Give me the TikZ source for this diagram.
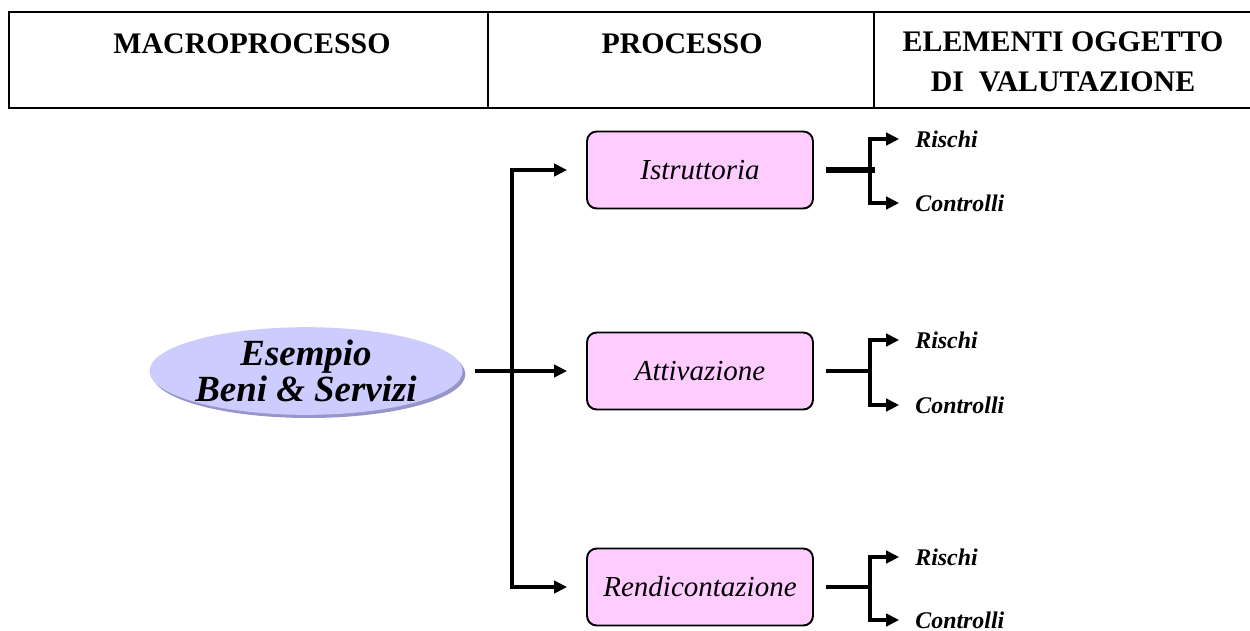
\documentclass[tikz,border=0pt]{standalone}
\usepackage{fontspec}
\setmainfont{Liberation Serif}
\usetikzlibrary{arrows.meta,shapes.geometric,shadows}
\definecolor{boxpink}{RGB}{255,204,255}
\definecolor{ellblue}{RGB}{204,204,255}
\definecolor{ellshadow}{RGB}{150,150,200}
\begin{document}
\begin{tikzpicture}[x=0.02cm,y=-0.02cm,
  grid/.style={line width=1.1pt},
  heading/.style={font=\fontsize{17}{22.8}\selectfont\bfseries, align=center, inner sep=0pt},
  procbox/.style={draw, line width=1.1pt, fill=boxpink, rounded corners=5.5pt,
    minimum width=4.52cm, minimum height=1.54cm, inner sep=0pt,
    font=\fontsize{16.5}{20}\selectfont\itshape},
  macro/.style={ellipse, fill=ellblue, minimum width=6.04cm, minimum height=1.64cm,
    inner sep=0pt, align=center, font=\fontsize{21}{20.5}\selectfont\bfseries\itshape,
    drop shadow={shadow xshift=1.6pt, shadow yshift=-1.8pt, fill=ellshadow, opacity=1}},
  outtxt/.style={anchor=west, inner sep=0pt, font=\fontsize{13.6}{16}\selectfont\bfseries\itshape},
  link/.style={line width=2pt, line join=miter},
  arr/.style={link, -{Triangle[length=7.4pt,width=7pt]}},
]
\useasboundingbox (0,0) rectangle (1250,630);

% header table
\draw[grid] (1250,12) -- (9,12) -- (9,108) -- (1250,108);
\draw[grid] (488,12) -- (488,108);
\draw[grid] (874,12) -- (874,108);
\node[heading] (h1) at (252,44) {MACROPROCESSO};
\node[heading] (h2) at (682,44) {PROCESSO};
\node[heading] (h3) at (1063,62) {ELEMENTI OGGETTO\\DI\ \ VALUTAZIONE};

% macro-process
\node[macro] (ell) at (306,371) {Esempio\\Beni \& Servizi};

% processes
\node[procbox] (b1) at (700,170) {Istruttoria};
\node[procbox] (b2) at (700,371) {Attivazione};
\node[procbox] (b3) at (700,587) {Rendicontazione};

% trunk
\coordinate (ta) at (512,170);
\coordinate (tb) at (512,587);
\draw[arr, shorten >=10.8pt] (tb) -- (ta) -- (b1.west);
\draw[arr, shorten >=10.8pt] (ta) -- (tb) -- (b3.west);
\draw[arr, shorten <=6.8pt, shorten >=10.8pt] (ell.east) -- (b2.west);

% evaluation elements
\node[outtxt] (r1) at (915,139) {Rischi};
\node[outtxt] (c1) at (915,203) {Controlli};
\node[outtxt] (r2) at (915,340) {Rischi};
\node[outtxt] (c2) at (915,405) {Controlli};
\node[outtxt] (r3) at (915,557) {Rischi};
\node[outtxt] (c3) at (915,620) {Controlli};

\coordinate (s1) at (870,170);
\coordinate (s2) at (870,371);
\coordinate (s3) at (870,587);

\draw[line width=3pt, shorten <=6.8pt] (b1.east) -- ([xshift=3pt]s1);
\draw[link, shorten <=6.8pt] (b2.east) -- (s2);
\draw[link, shorten <=6.8pt] (b3.east) -- (s3);

\foreach \i in {1,2,3} {
  \draw[arr, shorten >=9pt] (s\i) |- (r\i.west);
  \draw[arr, shorten >=9pt] (s\i) |- (c\i.west);
}
\end{tikzpicture}
\end{document}
